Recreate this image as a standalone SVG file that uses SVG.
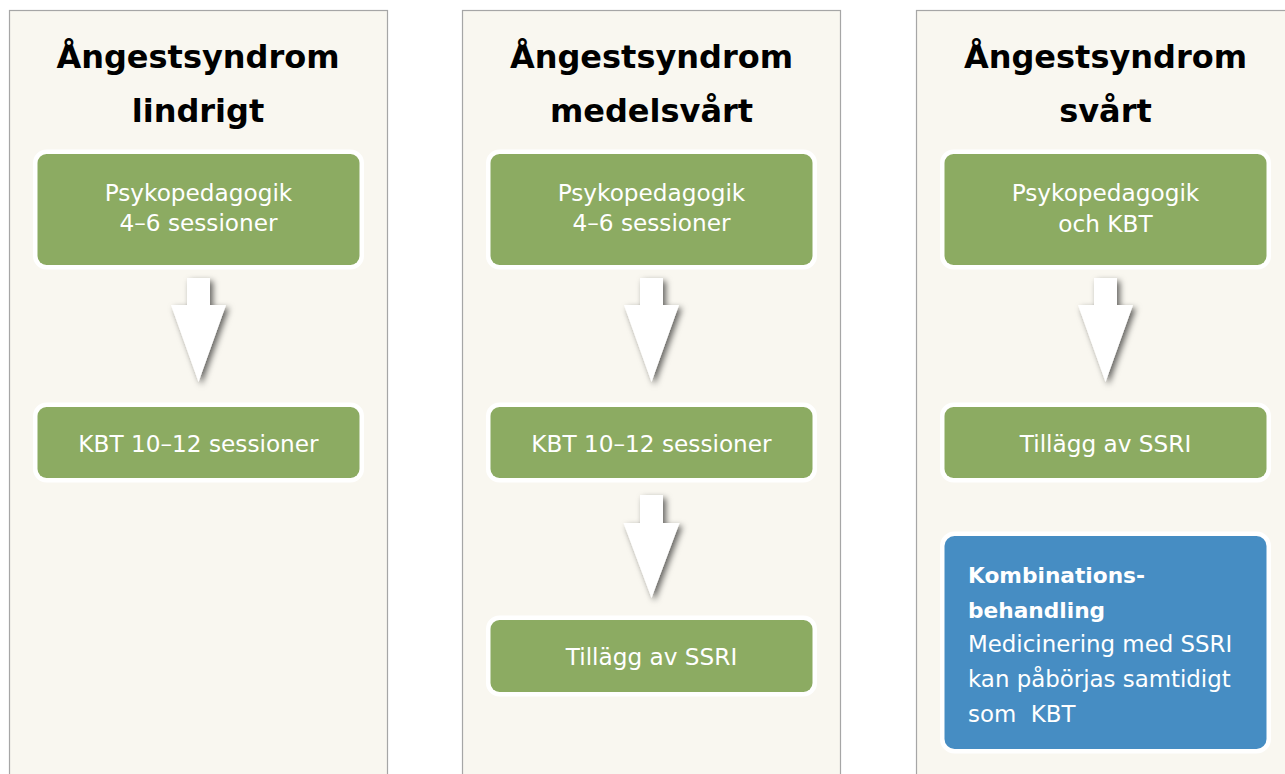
<svg xmlns="http://www.w3.org/2000/svg" width="1285" height="774" viewBox="0 0 1285 774">
<defs>
<style>
.panel{fill:#f9f7f0;stroke:#a6a6a6;stroke-width:1.2}
.title{font-family:"DejaVu Sans",sans-serif;font-weight:bold;font-size:32px;fill:#000;text-anchor:middle}
.box{fill:#8cab62;stroke:#ffffff;stroke-width:9;paint-order:stroke}
.blue{fill:#468dc3;stroke:#ffffff;stroke-width:9;paint-order:stroke}
.lbl{font-family:"DejaVu Sans",sans-serif;font-size:23.2px;fill:#ffffff;text-anchor:middle}
.bl{font-family:"DejaVu Sans",sans-serif;font-size:22.9px;fill:#ffffff}
.blb{font-weight:bold;font-size:21.7px}
.arrow{fill:#ffffff;filter:url(#sh)}
</style>
<filter id="sh" x="-50%" y="-20%" width="200%" height="150%">
<feDropShadow dx="3" dy="3" stdDeviation="3" flood-color="#000" flood-opacity="0.6"/>
</filter>
</defs>
<rect width="1285" height="774" fill="#ffffff"/>
<g id="panel-lindrigt">
<rect class="panel" x="9.5" y="10.5" width="378" height="790"/>
<text class="title" x="198" y="68">Ångestsyndrom</text>
<text class="title" x="198" y="122">lindrigt</text>
</g>
<g id="panel-medelsvart">
<rect class="panel" x="462.5" y="10.5" width="378" height="790"/>
<text class="title" x="651.5" y="68">Ångestsyndrom</text>
<text class="title" x="651.5" y="122">medelsvårt</text>
</g>
<g id="panel-svart">
<rect class="panel" x="916.5" y="10.5" width="378" height="790"/>
<text class="title" x="1105.5" y="68">Ångestsyndrom</text>
<text class="title" x="1105.5" y="122">svårt</text>
</g>
<g id="connectors">
<path class="arrow" d="M187 278H210V305H226L198.5 382L171 305H187Z"/>
<path class="arrow" d="M640 278H663V305H679L651.5 382L624 305H640Z"/>
<path class="arrow" d="M640 495H663V523H679.5L651.5 598L623.5 523H640Z"/>
<path class="arrow" d="M1094 278H1117V305H1133L1105.5 382L1078 305H1094Z"/>
</g>
<g id="n1-psyko">
<rect class="box" x="37.5" y="154" width="322" height="111" rx="9"/>
<text class="lbl" x="198.5" y="201">Psykopedagogik</text>
<text class="lbl" x="198.5" y="231">4–6 sessioner</text>
</g>
<g id="n1-kbt">
<rect class="box" x="37.5" y="407" width="322" height="71" rx="9"/>
<text class="lbl" x="198.5" y="452">KBT 10–12 sessioner</text>
</g>
<g id="n2-psyko">
<rect class="box" x="490.5" y="154" width="322" height="111" rx="9"/>
<text class="lbl" x="651.5" y="201">Psykopedagogik</text>
<text class="lbl" x="651.5" y="231">4–6 sessioner</text>
</g>
<g id="n2-kbt">
<rect class="box" x="490.5" y="407" width="322" height="71" rx="9"/>
<text class="lbl" x="651.5" y="452">KBT 10–12 sessioner</text>
</g>
<g id="n2-ssri">
<rect class="box" x="490.5" y="620" width="322" height="72" rx="9"/>
<text class="lbl" x="651.5" y="665">Tillägg av SSRI</text>
</g>
<g id="n3-psyko">
<rect class="box" x="944.5" y="154" width="322" height="111" rx="9"/>
<text class="lbl" x="1105.5" y="201">Psykopedagogik</text>
<text class="lbl" x="1105.5" y="232">och KBT</text>
</g>
<g id="n3-ssri">
<rect class="box" x="944.5" y="407" width="322" height="71" rx="9"/>
<text class="lbl" x="1105.5" y="452">Tillägg av SSRI</text>
</g>
<g id="n3-kombination">
<rect class="blue" x="944.5" y="536" width="322" height="213" rx="10"/>
<text class="bl blb" x="968" y="583">Kombinations-</text>
<text class="bl blb" x="968" y="617.5">behandling</text>
<text class="bl" x="968" y="652">Medicinering med SSRI</text>
<text class="bl" x="968" y="687">kan påbörjas samtidigt</text>
<text class="bl" x="968" y="721.5" xml:space="preserve">som  KBT</text>
</g>
</svg>
